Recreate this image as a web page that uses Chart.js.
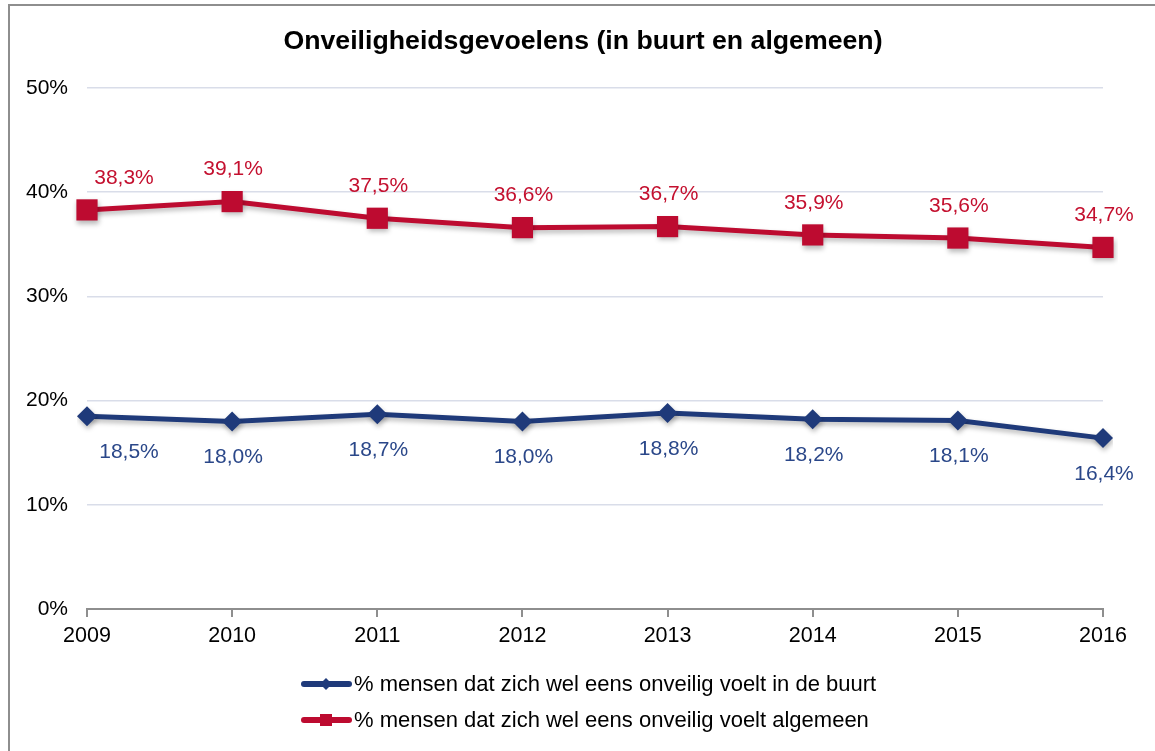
<!DOCTYPE html>
<html>
<head>
<meta charset="utf-8">
<title>Onveiligheidsgevoelens</title>
<script src="https://cdn.jsdelivr.net/npm/chart.js@4.4.1/dist/chart.umd.min.js"></script>
<style>
  html, body { margin: 0; padding: 0; background: #fff; }
  .frame {
    position: absolute; left: 8px; top: 4px; right: 0; bottom: 0;
    border-left: 2px solid #8e8e8e; border-top: 2px solid #8e8e8e;
  }
  #wrap { position: absolute; left: 0; top: 0; width: 1155px; height: 751px; }
</style>
</head>
<body>
<div class="frame"></div>
<div id="wrap"><canvas id="chart" width="1155" height="751"></canvas></div>
<script>
const chartTitle = 'Onveiligheidsgevoelens (in buurt en algemeen)';
const years = ['2009', '2010', '2011', '2012', '2013', '2014', '2015', '2016'];
const buurtValues = [18.5, 18.0, 18.7, 18.0, 18.8, 18.2, 18.1, 16.4];
const algemeenValues = [38.3, 39.1, 37.5, 36.6, 36.7, 35.9, 35.6, 34.7];
const seriesNames = [
    '% mensen dat zich wel eens onveilig voelt in de buurt',
    '% mensen dat zich wel eens onveilig voelt algemeen'
];
const yTicks = [0, 10, 20, 30, 40, 50];

const BLUE = '#1f3a7a';
const RED = '#bd0b30';
const FONT = 'Arial, "Liberation Sans", sans-serif';

function pct(v) {
    return v.toFixed(1).replace('.', ',') + '%';
}

// soft shadow under the lines, like the spreadsheet chart
const lineShadow = {
    id: 'lineShadow',
    beforeDatasetDraw(chart) {
        const ctx = chart.ctx;
        ctx.save();
        ctx.shadowColor = 'rgba(0,0,0,0.28)';
        ctx.shadowBlur = 5;
        ctx.shadowOffsetX = 1;
        ctx.shadowOffsetY = 3;
    },
    afterDatasetDraw(chart) {
        chart.ctx.restore();
    }
};

// value labels: red ones above the points, blue ones below
const valueLabels = {
    id: 'valueLabels',
    afterDatasetsDraw(chart) {
        const ctx = chart.ctx;
        ctx.save();
        ctx.font = '21px ' + FONT;
        ctx.textAlign = 'center';
        ctx.textBaseline = 'middle';
        chart.data.datasets.forEach((ds, di) => {
            const meta = chart.getDatasetMeta(di);
            meta.data.forEach((pt, i) => {
                const dy = ds.labelAbove ? -32 : 36;
                const dx = i === 0 ? (ds.labelAbove ? 37 : 42) : 1;
                ctx.fillStyle = ds.labelColor;
                ctx.fillText(pct(ds.data[i]), pt.x + dx, pt.y + dy);
            });
        });
        ctx.restore();
    }
};

// title and the two-row legend with line + marker symbols
const decorations = {
    id: 'decorations',
    afterDraw(chart) {
        const ctx = chart.ctx;
        ctx.save();
        ctx.fillStyle = '#000';
        ctx.font = 'bold 26.7px ' + FONT;
        ctx.textAlign = 'center';
        ctx.textBaseline = 'middle';
        ctx.fillText(chartTitle, 583, 42);

        const rows = [684, 720];
        chart.data.datasets.forEach((ds, di) => {
            const y = rows[di];
            ctx.strokeStyle = ds.borderColor;
            ctx.lineWidth = 6;
            ctx.lineCap = 'round';
            ctx.beginPath();
            ctx.moveTo(304, y);
            ctx.lineTo(349, y);
            ctx.stroke();
            ctx.fillStyle = ds.borderColor;
            ctx.beginPath();
            if (ds.pointStyle === 'rectRot') {
                ctx.moveTo(326, y - 6);
                ctx.lineTo(332, y);
                ctx.lineTo(326, y + 6);
                ctx.lineTo(320, y);
            } else {
                ctx.rect(320, y - 6, 12, 12);
            }
            ctx.fill();
            ctx.fillStyle = '#000';
            ctx.font = '22px ' + FONT;
            ctx.textAlign = 'left';
            ctx.fillText(ds.label, 354, y + 1);
        });
        ctx.restore();
    }
};

new Chart(document.getElementById('chart'), {
    type: 'line',
    data: {
        labels: years,
        datasets: [
            {
                label: seriesNames[0],
                data: buurtValues,
                borderColor: BLUE,
                backgroundColor: BLUE,
                borderWidth: 5,
                pointStyle: 'rectRot',
                pointRadius: 10,
                pointBorderWidth: 0,
                labelColor: '#2a4789',
                labelAbove: false,
                tension: 0
            },
            {
                label: seriesNames[1],
                data: algemeenValues,
                borderColor: RED,
                backgroundColor: RED,
                borderWidth: 5,
                pointStyle: 'rect',
                pointRadius: 15,
                pointBorderWidth: 0,
                labelColor: '#c4102f',
                labelAbove: true,
                tension: 0
            }
        ]
    },
    options: {
        responsive: false,
        animation: false,
        layout: { padding: { top: 88, right: 52, bottom: 102, left: 0 } },
        plugins: {
            legend: { display: false },
            title: { display: false },
            tooltip: { enabled: false }
        },
        scales: {
            x: {
                offset: false,
                grid: {
                    drawOnChartArea: false,
                    drawTicks: true,
                    tickLength: 8,
                    color: '#8e8e8e',
                    lineWidth: 2
                },
                border: { display: true, color: '#8e8e8e', width: 2 },
                ticks: {
                    color: '#000',
                    font: { family: FONT, size: 21.5 },
                    padding: 6,
                    maxRotation: 0
                },
                afterFit(scale) { scale.height = 40; }
            },
            y: {
                min: yTicks[0],
                max: yTicks[yTicks.length - 1],
                afterBuildTicks(scale) {
                    scale.ticks = yTicks.map(v => ({ value: v }));
                },
                grid: {
                    drawTicks: false,
                    color: ctx => ctx.tick && ctx.tick.value === 0 ? 'rgba(0,0,0,0)' : '#d9dde9',
                    lineWidth: 1.5
                },
                border: { display: false },
                ticks: {
                    color: '#000',
                    font: { family: FONT, size: 21 },
                    padding: 19,
                    callback: v => v + '%'
                },
                afterFit(scale) { scale.width = 87; }
            }
        }
    },
    plugins: [lineShadow, valueLabels, decorations]
});
</script>
</body>
</html>
